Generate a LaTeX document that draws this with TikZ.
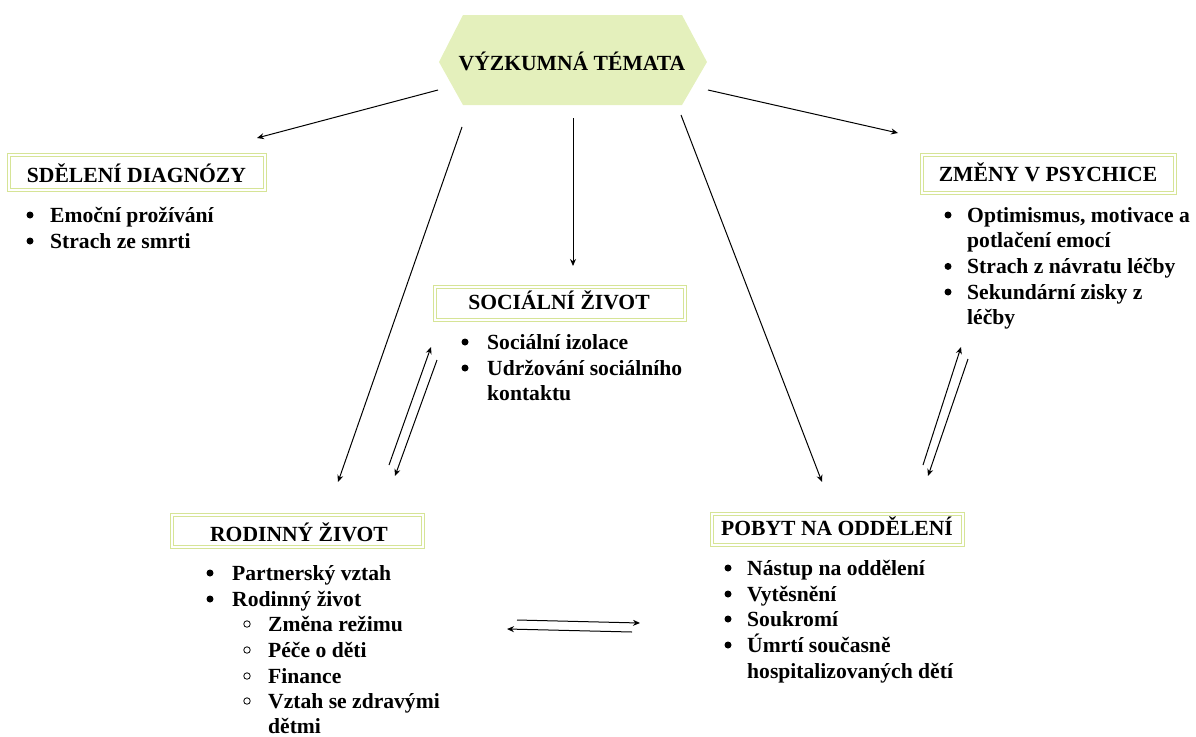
\documentclass[tikz,border=0pt]{standalone}
\usepackage{fontspec}
\setmainfont{Liberation Serif}
\usetikzlibrary{arrows.meta}
\definecolor{hexfill}{RGB}{228,240,188}
\definecolor{framec}{RGB}{214,228,150}
\begin{document}
\begin{tikzpicture}[x=1pt,y=-1pt,
  every node/.style={font=\fontsize{21.6}{26}\selectfont\bfseries, inner sep=0pt},
  frame/.style={draw=framec, double=white, double distance=2.2pt, line width=0.8pt, rectangle},
  txt/.style={anchor=base west},
  ttl/.style={anchor=base},
  bul/.style={circle, fill=black, minimum size=7pt},
  sbul/.style={circle, draw=black, line width=0.8pt, minimum size=6.5pt},
  conn/.style={draw, line width=1pt, -{Stealth[length=7pt,width=6pt]}}]
\useasboundingbox (0,0) rectangle (1196,736);

% central hexagon
\fill[hexfill] (439,62) -- (463,15) -- (682,15) -- (707,62) -- (682,105) -- (463,105) -- cycle;
\node[ttl] (top) at (572,70) {VÝZKUMNÁ TÉMATA};

% SDĚLENÍ DIAGNÓZY
\node[frame, minimum width=256, minimum height=35] (sdB) at (137,172.5) {};
\node[ttl] (sdT) at (136.5,182) {SDĚLENÍ DIAGNÓZY};
\node[bul] (sd1b) at (30,215) {};
\node[txt] (sd1) at (50,222) {Emoční prožívání};
\node[bul] (sd2b) at (30,241) {};
\node[txt] (sd2) at (50,248) {Strach ze smrti};

% ZMĚNY V PSYCHICE
\node[frame, minimum width=253, minimum height=38] (zmB) at (1048.5,174) {};
\node[ttl] (zmT) at (1048,181) {ZMĚNY V PSYCHICE};
\node[bul] (zm1b) at (948,215) {};
\node[txt] (zm1) at (967,222) {Optimismus, motivace a};
\node[txt] (zm1c) at (967,247.7) {potlačení emocí};
\node[bul] (zm2b) at (948,266.4) {};
\node[txt] (zm2) at (967,273.4) {Strach z návratu léčby};
\node[bul] (zm3b) at (948,292) {};
\node[txt] (zm3) at (967,299) {Sekundární zisky z};
\node[txt] (zm3c) at (967,324.8) {léčby};

% SOCIÁLNÍ ŽIVOT
\node[frame, minimum width=250, minimum height=33] (soB) at (560,303.5) {};
\node[ttl] (soT) at (559,309) {SOCIÁLNÍ ŽIVOT};
\node[bul] (so1b) at (465,342) {};
\node[txt] (so1) at (487,349) {Sociální izolace};
\node[bul] (so2b) at (465,368) {};
\node[txt] (so2) at (487,375) {Udržování sociálního};
\node[txt] (so2c) at (487,400) {kontaktu};

% RODINNÝ ŽIVOT
\node[frame, minimum width=251, minimum height=32] (roB) at (297.5,531) {};
\node[ttl] (roT) at (299,541) {RODINNÝ ŽIVOT};
\node[bul] (ro1b) at (210,573) {};
\node[txt] (ro1) at (232,580) {Partnerský vztah};
\node[bul] (ro2b) at (210,599) {};
\node[txt] (ro2) at (232,606) {Rodinný život};
\node[sbul] (ro3b) at (247,624) {};
\node[txt] (ro3) at (268,631) {Změna režimu};
\node[sbul] (ro4b) at (247,650) {};
\node[txt] (ro4) at (268,657) {Péče o děti};
\node[sbul] (ro5b) at (247,676) {};
\node[txt] (ro5) at (268,683) {Finance};
\node[sbul] (ro6b) at (247,701) {};
\node[txt] (ro6) at (268,708) {Vztah se zdravými};
\node[txt] (ro6c) at (268,733) {dětmi};

% POBYT NA ODDĚLENÍ
\node[frame, minimum width=251, minimum height=31] (poB) at (837.5,529.5) {};
\node[ttl] (poT) at (837,535) {POBYT NA ODDĚLENÍ};
\node[bul] (po1b) at (728,568) {};
\node[txt] (po1) at (747,575) {Nástup na oddělení};
\node[bul] (po2b) at (728,594) {};
\node[txt] (po2) at (747,601) {Vytěsnění};
\node[bul] (po3b) at (728,619) {};
\node[txt] (po3) at (747,626) {Soukromí};
\node[bul] (po4b) at (728,645) {};
\node[txt] (po4) at (747,652) {Úmrtí současně};
\node[txt] (po4c) at (747,678) {hospitalizovaných dětí};

% connector end points
\coordinate (c1s) at (438,90);  \coordinate (c1e) at (257,138);
\coordinate (c2s) at (708,90);  \coordinate (c2e) at (898,133);
\coordinate (c3s) at (573,118); \coordinate (c3e) at (573,266);
\coordinate (c4s) at (462,127); \coordinate (c4e) at (338,482);
\coordinate (c5s) at (681,115); \coordinate (c5e) at (822,482);
\coordinate (c6s) at (389,465); \coordinate (c6e) at (431,347);
\coordinate (c7s) at (437,360); \coordinate (c7e) at (395,476);
\coordinate (c8s) at (923,465); \coordinate (c8e) at (961,347);
\coordinate (c9s) at (968,359); \coordinate (c9e) at (928,476);
\coordinate (c10s) at (517,620); \coordinate (c10e) at (640,623);
\coordinate (c11s) at (632,632); \coordinate (c11e) at (507,629);

\draw[conn] (c1s) -- (c1e);
\draw[conn] (c2s) -- (c2e);
\draw[conn] (c3s) -- (c3e);
\draw[conn] (c4s) -- (c4e);
\draw[conn] (c5s) -- (c5e);
\draw[conn] (c6s) -- (c6e);
\draw[conn] (c7s) -- (c7e);
\draw[conn] (c8s) -- (c8e);
\draw[conn] (c9s) -- (c9e);
\draw[conn] (c10s) -- (c10e);
\draw[conn] (c11s) -- (c11e);
\end{tikzpicture}
\end{document}
